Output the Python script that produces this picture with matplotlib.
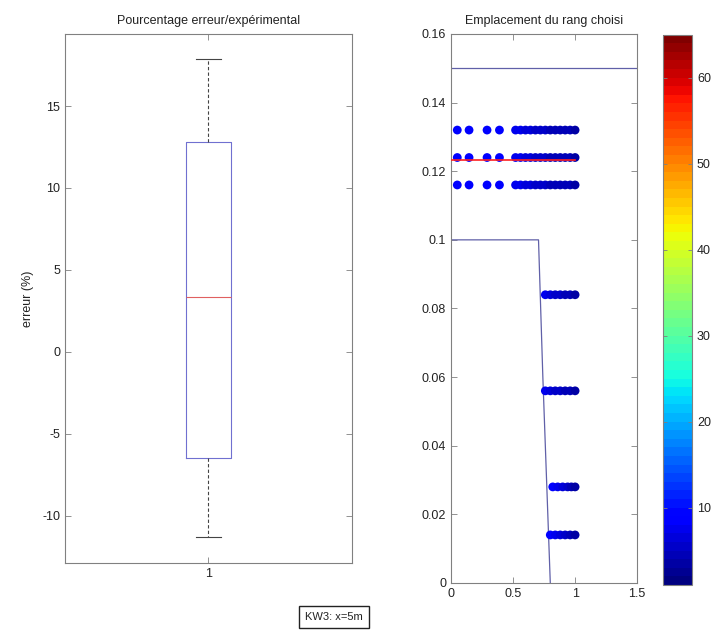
import matplotlib
matplotlib.use("Agg")
import matplotlib.pyplot as plt
import numpy as np
from matplotlib.colors import Normalize

plt.rcParams['font.family'] = ['Liberation Sans', 'DejaVu Sans']

# ---------------- data ----------------
# Boxplot statistics (erreur %)
box_med = 3.35
box_q1 = -6.5
box_q3 = 12.8
box_whislo = -11.3
box_whishi = 17.9

# Scatter rows (Emplacement du rang choisi)
row_y_top = [0.132, 0.124, 0.116]
row_x_top = [0.05, 0.145, 0.29, 0.39, 0.52, 0.56, 0.60, 0.64, 0.68, 0.72, 0.76,
             0.80, 0.84, 0.88, 0.92, 0.96, 1.0]
row_c_top = [8, 8, 8, 8, 7, 7, 6, 6, 5, 5, 5, 4, 4, 4, 4, 4, 3]

row_y_mid = [0.084, 0.056]
row_x_mid = [0.76, 0.80, 0.84, 0.88, 0.92, 0.96, 1.0]
row_c_mid = [7, 6, 5, 5, 4, 4, 3]

row_y_028 = 0.028
row_x_028 = [0.82, 0.86, 0.90, 0.94, 0.97, 1.0]
row_c_028 = [8, 7, 6, 5, 4, 3]

row_y_014 = 0.014
row_x_014 = [0.80, 0.84, 0.88, 0.92, 0.96, 1.0]
row_c_014 = [8, 7, 6, 5, 4, 3]

# Outline lines
line_top_x = [0, 1.5]
line_top_y = [0.15, 0.15]
line_prof_x = [0.0, 0.705, 0.74, 0.77, 0.80]
line_prof_y = [0.1, 0.1, 0.06, 0.03, 0.0]
red_x = [0.0, 1.0]
red_y = [0.1233, 0.1233]

cmin, cmax = 1, 65

# ---------------- figure ----------------
fig = plt.figure(figsize=(7.16, 6.4), dpi=100)
txt = '#222222'
spc = '#808080'

ax1 = fig.add_axes([0.0908, 0.1203, 0.4008, 0.8266])
stats = [dict(med=box_med, q1=box_q1, q3=box_q3, whislo=box_whislo,
              whishi=box_whishi, fliers=[], label='1')]
ax1.bxp(stats, positions=[1], widths=0.16, showfliers=False,
        boxprops=dict(color='#7070d0', lw=0.8),
        medianprops=dict(color='#e06060', lw=0.8),
        whiskerprops=dict(color='#444444', lw=0.8, ls=(0, (3, 2))),
        capprops=dict(color='#444444', lw=0.8), capwidths=0.09)
ax1.set_xlim(0.5, 1.5)
ax1.set_ylim(-12.9, 19.4)
ax1.set_yticks([-10, -5, 0, 5, 10, 15])
ax1.set_yticklabels(['-10', '-5', '0', '5', '10', '15'])
ax1.set_xticks([1])
ax1.set_xticklabels(['1'])
ax1.set_title('Pourcentage erreur/expérimental', fontsize=9, color=txt, pad=7)
ax1.set_ylabel('erreur (%)', fontsize=9, color=txt, labelpad=6)

ax2 = fig.add_axes([0.630, 0.0891, 0.2598, 0.8578])
norm = Normalize(cmin, cmax)
cmap = plt.get_cmap('jet', 64)
ax2.plot(line_top_x, line_top_y, color='#6060a8', lw=0.9)
ax2.plot(line_prof_x, line_prof_y, color='#6060a8', lw=0.9)
msize = 40
for yv in row_y_top:
    ax2.scatter(row_x_top, [yv] * len(row_x_top), c=row_c_top, cmap=cmap, norm=norm,
                s=msize, edgecolors='none', zorder=3)
for yv in row_y_mid:
    ax2.scatter(row_x_mid, [yv] * len(row_x_mid), c=row_c_mid, cmap=cmap, norm=norm,
                s=msize, edgecolors='none', zorder=3)
ax2.scatter(row_x_028, [row_y_028] * len(row_x_028), c=row_c_028, cmap=cmap, norm=norm,
            s=msize, edgecolors='none', zorder=3)
sc = ax2.scatter(row_x_014, [row_y_014] * len(row_x_014), c=row_c_014, cmap=cmap, norm=norm,
                 s=msize, edgecolors='none', zorder=3)
ax2.plot(red_x, red_y, color='#ff2020', lw=1.2, zorder=4)
ax2.set_xlim(0, 1.5)
ax2.set_ylim(0, 0.16)
ax2.set_xticks([0, 0.5, 1, 1.5])
ax2.set_xticklabels(['0', '0.5', '1', '1.5'])
yt = [0, 0.02, 0.04, 0.06, 0.08, 0.1, 0.12, 0.14, 0.16]
ax2.set_yticks(yt)
ax2.set_yticklabels(['0', '0.02', '0.04', '0.06', '0.08', '0.1', '0.12', '0.14', '0.16'])
ax2.set_title('Emplacement du rang choisi', fontsize=9, color=txt, pad=7)

for ax in (ax1, ax2):
    for s in ax.spines.values():
        s.set_color(spc)
        s.set_linewidth(0.8)
    ax.tick_params(direction='in', length=4, width=0.6, color=spc, labelcolor=txt,
                   labelsize=9, top=True, right=True)

cax = fig.add_axes([0.926, 0.086, 0.0405, 0.860])
cb = fig.colorbar(sc, cax=cax)
cb.set_ticks([10, 20, 30, 40, 50, 60])
cb.outline.set_edgecolor(spc)
cb.outline.set_linewidth(0.8)
cax.tick_params(direction='in', length=3, width=0.6, color=spc, labelcolor=txt,
                labelsize=9, left=True, right=True)

fig.text(0.4665, 0.036, 'KW3: x=5m', ha='center', va='center', fontsize=8, color=txt,
         bbox=dict(boxstyle='square,pad=0.55', fc='white', ec='#222222', lw=1.0))

fig.savefig('out.png', dpi=100, facecolor='white')
